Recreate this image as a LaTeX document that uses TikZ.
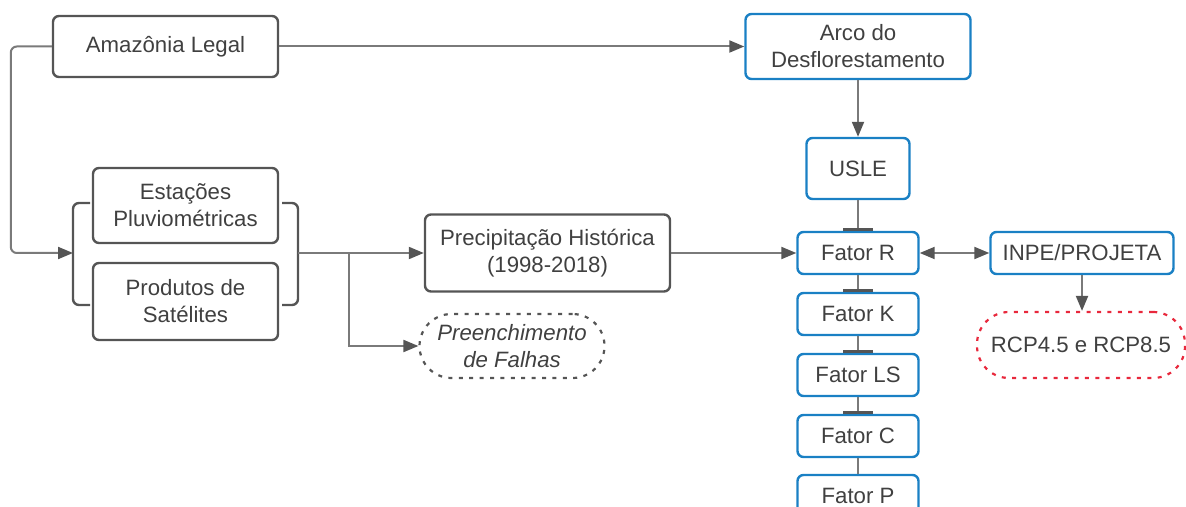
\documentclass[tikz,border=0pt]{standalone}
\usepackage{fontspec}
\setmainfont{Liberation Sans}
\usepackage{xcolor}
\usepackage{tikz}
\usetikzlibrary{arrows.meta}
\usetikzlibrary{calc}

\definecolor{boxgrey}{HTML}{555555}
\definecolor{linegrey}{HTML}{7A7A7A}
\definecolor{txtgrey}{HTML}{404040}
\definecolor{lucblue}{HTML}{1A80C4}
\definecolor{rcpred}{HTML}{E8283C}

\tikzset{
  greybox/.style={draw=boxgrey, line width=1.2pt, rounded corners=3pt, text=txtgrey,
    align=center, inner sep=0pt, font=\fontsize{11.1}{13.5}\selectfont},
  bluebox/.style={greybox, draw=lucblue},
  dotbox/.style={greybox, dash pattern=on 2pt off 3.2pt, line width=1.1pt, rounded corners=16pt},
  link/.style={draw=linegrey, line width=1pt},
  tip/.style={-{Triangle[length=7.5pt,width=6pt,color=boxgrey]}},
  tee/.style={-{Bar[width=15pt,line width=1.4pt,color=boxgrey]}}
}

\begin{document}
\begin{tikzpicture}[x=0.5pt,y=-0.5pt]
\useasboundingbox (0,0) rectangle (1186,507);

% boxes
\node[greybox, minimum width=112.5pt, minimum height=30.5pt] (amz) at (165.5,46.5) {Amazônia Legal};
\node[bluebox, minimum width=112.5pt, minimum height=32.5pt] (arco) at (858,46.5) {Arco do\\Desflorestamento};
\node[bluebox, minimum width=51.5pt, minimum height=30.5pt] (usle) at (858,168.5) {USLE};
\node[greybox, minimum width=92.5pt, minimum height=37.5pt] (est) at (185.5,205.5) {Estações\\Pluviométricas};
\node[greybox, minimum width=92.5pt, minimum height=38.5pt] (sat) at (185.5,301.5) {Produtos de\\Satélites};
\node[greybox, minimum width=122.5pt, minimum height=38.5pt] (prec) at (547.5,253) {Precipitação Histórica\\(1998-2018)};
\node[dotbox, draw=boxgrey, minimum width=92.5pt, minimum height=32pt, font=\fontsize{11.1}{13.5}\selectfont\itshape] (fill) at (512,346) {Preenchimento\\de Falhas};

% fatores
\node[bluebox, minimum width=60.5pt, minimum height=21pt] (fR) at (858,253) {Fator R};
\node[bluebox, minimum width=60.5pt, minimum height=21pt] (fK) at (858,314) {Fator K};
\node[bluebox, minimum width=60.5pt, minimum height=21pt] (fLS) at (858,375) {Fator LS};
\node[bluebox, minimum width=60.5pt, minimum height=21pt] (fC) at (858,436) {Fator C};
\node[bluebox, minimum width=60.5pt, minimum height=21pt] (fP) at (858,496) {Fator P};

\node[bluebox, minimum width=91.5pt, minimum height=21pt] (inpe) at (1082,253) {INPE/PROJETA};
\node[dotbox, draw=rcpred, minimum width=104pt, minimum height=33pt] (rcp) at (1081,345) {RCP4.5 e RCP8.5};

% brackets round the two sources
\draw[greybox] (90,203) -- (73,203) -- (73,305) -- (90,305);
\draw[greybox] (282,203) -- (298,203) -- (298,305) -- (282,305);
\coordinate (inL) at (73,253);
\coordinate (outR) at (298,253);
\coordinate (split) at (349,253);

% connectors
\draw[link,tip,rounded corners=3pt] (amz.west) -- ++(-41,0) |- (inL);
\draw[link,tip] (amz.east) -- (arco.west);
\draw[link,tip] (arco.south) -- (usle.north);
\draw[link,tip] (outR) -- (prec.west);
\draw[link,tip] (split) |- (fill.west);
\draw[link,tip] (prec.east) -- (fR.west);
\draw[link,tee] (usle.south) -- (fR.north);
\draw[link,tee] (fR.south) -- (fK.north);
\draw[link,tee] (fK.south) -- (fLS.north);
\draw[link,tee] (fLS.south) -- (fC.north);
\draw[link] (fC.south) -- (fP.north);
\draw[link,{Triangle[length=7.5pt,width=6pt,color=boxgrey]}-{Triangle[length=7.5pt,width=6pt,color=boxgrey]}] (fR.east) -- (inpe.west);
\draw[link,tip] (inpe.south) -- (inpe.south |- rcp.north);
\end{tikzpicture}
\end{document}
